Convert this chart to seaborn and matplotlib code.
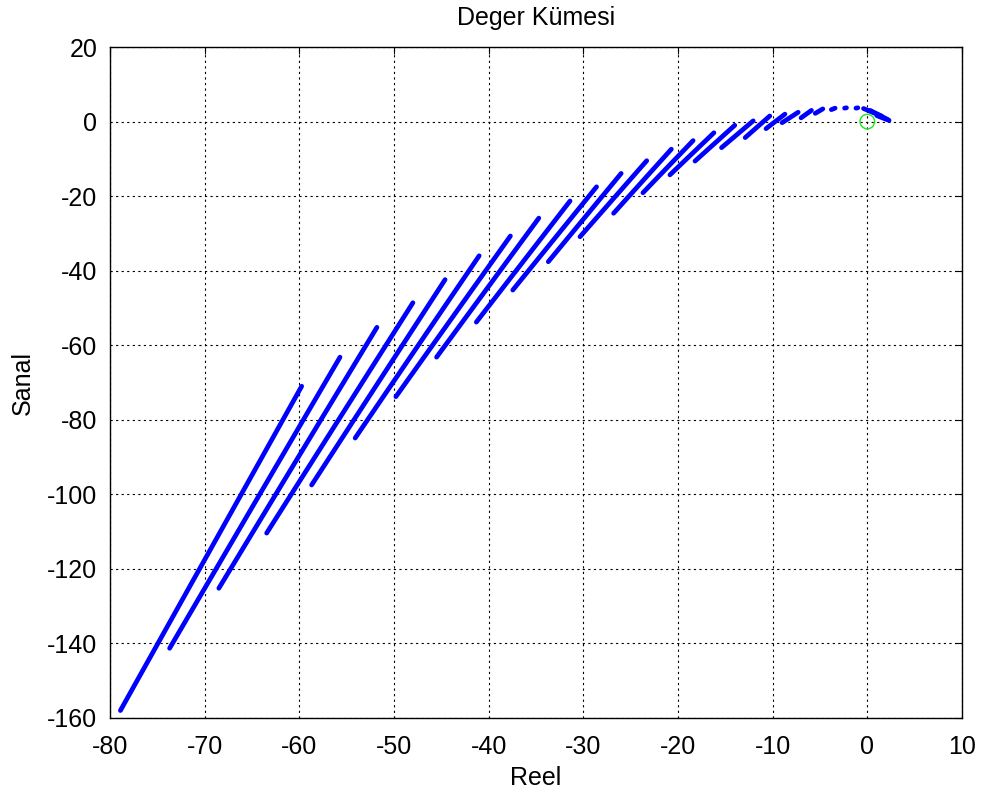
import matplotlib
matplotlib.use("Agg")
import matplotlib.pyplot as plt
import numpy as np
import pandas as pd
import seaborn as sns

# Value-set strokes: start (lower-left) and end (upper-right) of each stroke
x_start = [-78.9, -73.7, -68.5, -63.45, -58.7, -54.1, -49.8, -45.5, -41.3, -37.45,
           -33.7, -30.35, -26.8, -23.7, -20.85, -18.2, -15.4, -12.9, -10.7, -9.0,
           -7.0, -5.5, -3.8, -2.4, -1.2, -0.4, 0.3, 1.0]
y_start = [-158.0, -141.3, -125.2, -110.4, -97.5, -84.9, -73.8, -63.2, -53.8, -45.2,
           -37.6, -30.9, -24.6, -19.1, -14.3, -10.6, -7.0, -4.3, -1.9, -0.3,
           1.0, 2.2, 3.2, 3.6, 3.6, 3.5, 3.0, 1.6]
x_end = [-59.75, -55.7, -51.8, -48.0, -44.6, -41.0, -37.7, -34.7, -31.4, -28.6,
         -26.0, -23.3, -20.7, -18.4, -16.2, -14.0, -12.05, -10.3, -8.7, -7.3,
         -5.9, -4.7, -3.4, -2.2, -1.0, 1.5, 2.2, 2.3]
y_end = [-71.0, -63.2, -55.2, -48.6, -42.4, -36.0, -30.7, -25.9, -21.3, -17.5,
         -13.9, -10.5, -7.4, -5.1, -3.0, -1.0, 0.2, 1.5, 2.0, 2.5,
         3.0, 3.4, 3.6, 3.7, 3.7, 1.5, 0.5, 0.3]

# Reference point
ref_x = [0.0]
ref_y = [0.0]

x_ticks = [-80, -70, -60, -50, -40, -30, -20, -10, 0, 10]
y_ticks = [20, 0, -20, -40, -60, -80, -100, -120, -140, -160]

rows = []
for i, (xa, ya, xb, yb) in enumerate(zip(x_start, y_start, x_end, y_end)):
    rows.append({"stroke": i, "order": 0, "Reel": xa, "Sanal": ya})
    rows.append({"stroke": i, "order": 1, "Reel": xb, "Sanal": yb})
df = pd.DataFrame(rows)

sns.set_style("white")
plt.rcParams["font.family"] = ["Liberation Sans", "DejaVu Sans"]
plt.rcParams["axes.unicode_minus"] = False
plt.rcParams["text.color"] = "black"
plt.rcParams["axes.labelcolor"] = "black"

fig = plt.figure(figsize=(9.81, 7.89), dpi=100)
ax = fig.add_axes([0.1121, 0.09, 0.8685, 0.8504])

sns.lineplot(data=df, x="Reel", y="Sanal", units="stroke", estimator=None,
             sort=False, color=(0, 0, 1), linewidth=3.4, ax=ax,
             solid_capstyle="round")
sns.scatterplot(x=ref_x, y=ref_y, marker="o", s=110, facecolors="none",
                edgecolors=(0.1, 0.9, 0.1), linewidths=1.0, ax=ax, zorder=5)

ax.set_xlim(-80, 10)
ax.set_ylim(-160, 20)
ax.set_xticks(x_ticks)
ax.set_yticks(y_ticks)
ax.grid(True, color="black", linestyle=(0, (2, 3)), linewidth=0.8)
ax.set_axisbelow(True)
ax.tick_params(direction="in", length=5, top=True, right=True,
               labelsize=18, colors="black")
ax.tick_params(axis="x", pad=12)
ax.tick_params(axis="y", pad=9)
for s in ax.spines.values():
    s.set_color("black")
    s.set_linewidth(1.0)

ax.set_title("Deger Kümesi", fontsize=18, pad=16, color="black")
ax.set_xlabel("Reel", fontsize=18, labelpad=5, color="black")
ax.set_ylabel("Sanal", fontsize=18, labelpad=9, color="black")

fig.savefig("out.png", dpi=100)
